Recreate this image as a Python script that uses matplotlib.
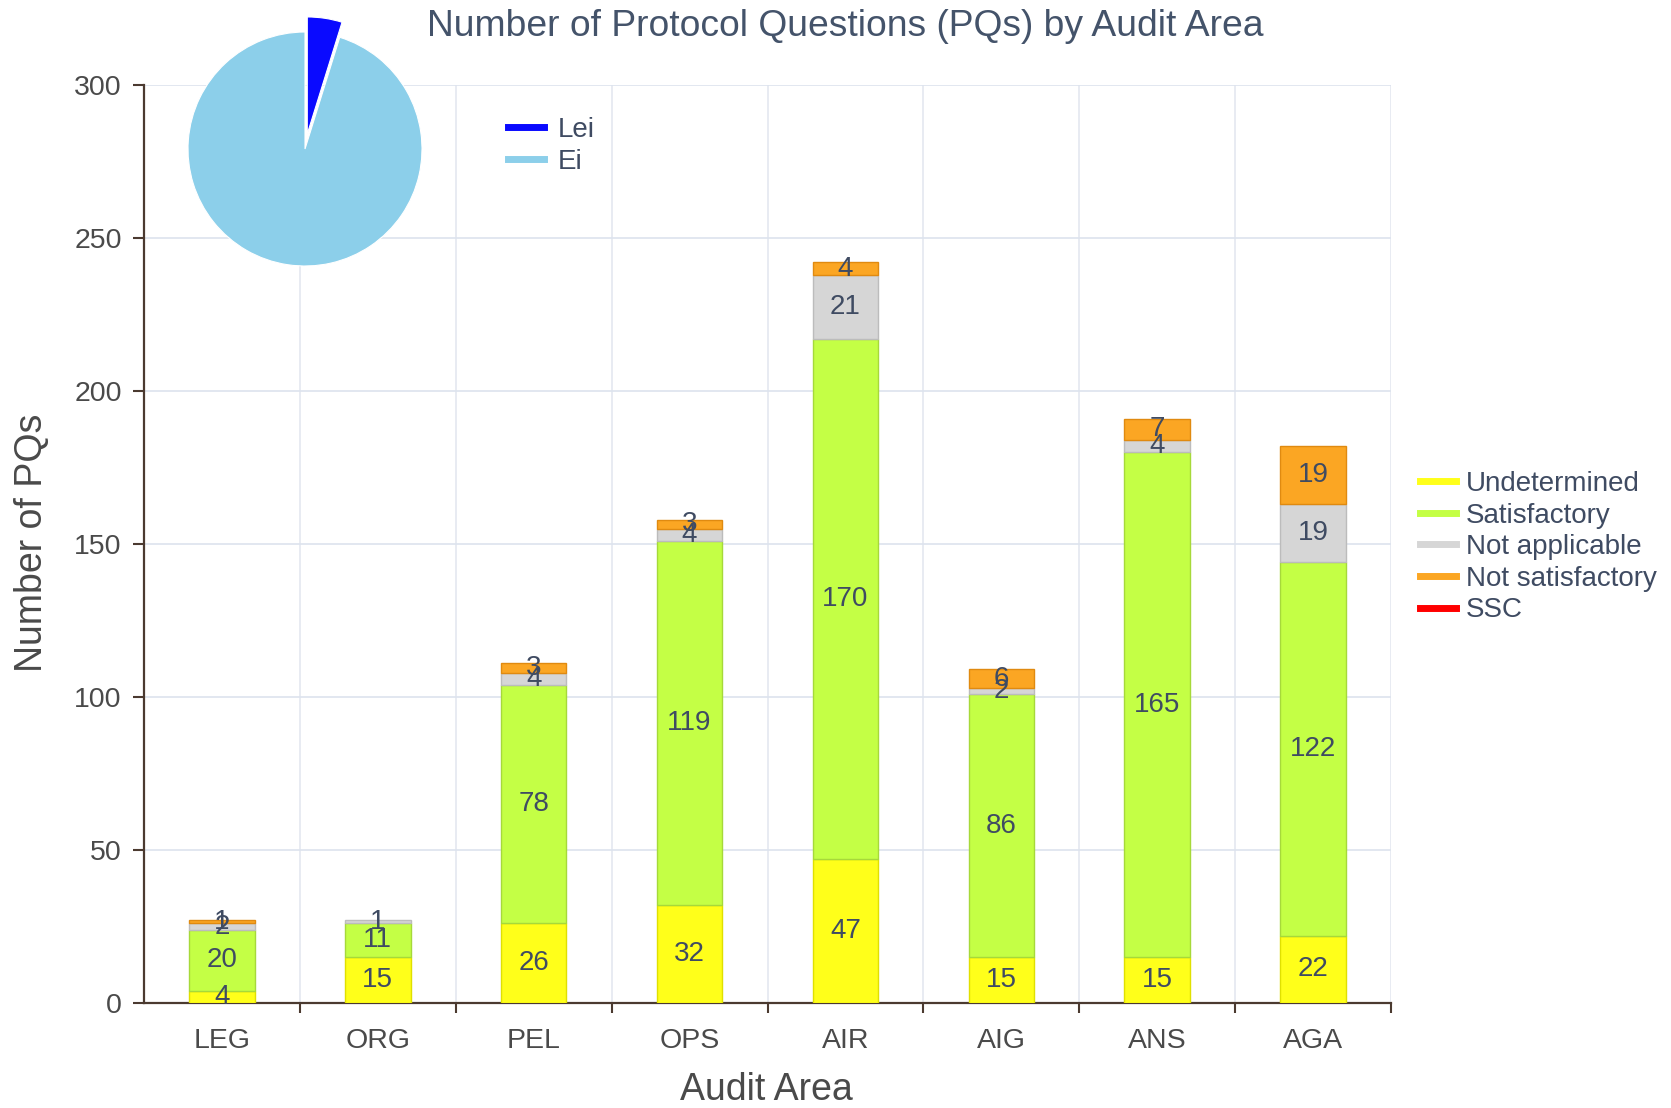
import matplotlib
matplotlib.use('Agg')
import matplotlib.pyplot as plt
import numpy as np
from matplotlib.lines import Line2D

plt.rcParams['font.family'] = ['Liberation Sans', 'DejaVu Sans']

areas = ['LEG', 'ORG', 'PEL', 'OPS', 'AIR', 'AIG', 'ANS', 'AGA']
undetermined = [4, 15, 26, 32, 47, 15, 15, 22]
satisfactory = [20, 11, 78, 119, 170, 86, 165, 122]
not_applicable = [2, 1, 4, 4, 21, 2, 4, 19]
not_satisfactory = [1, 0, 3, 3, 4, 6, 7, 19]
ssc = [0, 0, 0, 0, 0, 0, 0, 0]

series_names = ['Undetermined', 'Satisfactory', 'Not applicable',
                'Not satisfactory', 'SSC']
series_colors = ['#ffff1a', '#c4ff45', '#d6d6d6', '#fba623', '#ff0000']
edge_colors = ['#e0e000', '#a6d93a', '#bcbcbc', '#e08a10', '#cc0000']

pie_labels = ['Lei', 'Ei']
pie_values = [4.8, 95.2]
pie_colors = ['#0a0aff', '#8ccfea']

text_col = '#4a4a4a'
label_col = '#3f4b62'

fig = plt.figure(figsize=(16.71, 11.08), dpi=100)
ax = fig.add_axes([144 / 1671, 1 - 1003 / 1108, (1391 - 144) / 1671, (1003 - 85) / 1108])

x = np.arange(len(areas))
width = 0.42
bottom = np.zeros(len(areas))
all_series = [undetermined, satisfactory, not_applicable, not_satisfactory, ssc]
for vals, name, col, ec in zip(all_series, series_names, series_colors, edge_colors):
    vals = np.array(vals, dtype=float)
    lw = np.where(vals > 0, 1.0, 0.0)
    ax.bar(x, vals, width, bottom=bottom, color=col, edgecolor=ec,
           linewidth=lw, zorder=3)
    for xi, b, v in zip(x, bottom, vals):
        if v > 0:
            ax.text(xi, b + v / 2, f'{int(v)}', ha='center', va='center',
                    fontsize=20, color=label_col, zorder=4)
    bottom += vals

ax.set_xlim(-0.5, 7.5)
ax.set_ylim(0, 300)
ax.set_yticks(np.arange(0, 301, 50))
ax.set_xticks(x)
ax.set_xticklabels(areas)
ax.set_xticks(np.arange(0.5, 8, 1), minor=True)
ax.tick_params(axis='x', which='major', length=0, pad=18, labelsize=20.5,
               labelcolor=text_col)
ax.tick_params(axis='x', which='minor', length=7, width=1.5, color='#4b3a30')
ax.tick_params(axis='y', length=8, width=1.5, color='#4b3a30', pad=8,
               labelsize=20.5, labelcolor=text_col)
ax.grid(axis='y', color='#dde3ee', linewidth=1.2, zorder=0)
ax.grid(axis='x', which='minor', color='#e4e8f0', linewidth=1.2, zorder=0)
for s in ['top', 'right']:
    ax.spines[s].set_visible(False)
for s in ['left', 'bottom']:
    ax.spines[s].set_color('#4b3a30')
    ax.spines[s].set_linewidth(1.6)

fig.text(766 / 1671, 1 - 1090 / 1108, 'Audit Area', ha='center', va='center',
         fontsize=27, color=text_col)
fig.text(32 / 1671, 1 - 543 / 1108, 'Number of PQs', ha='center', va='center',
         rotation=90, fontsize=27, color=text_col)
fig.text(845 / 1671, 1 - 27 / 1108,
         'Number of Protocol Questions (PQs) by Audit Area',
         ha='center', va='center', fontsize=26.8, color='#44536a')

# series legend on the right
handles = [Line2D([0], [0], color=c, lw=5) for c in series_colors]
fig.legend(handles, series_names, loc='upper left',
           bbox_to_anchor=(1395 / 1671, 1 - 446 / 1108), frameon=False,
           fontsize=20, handlelength=1.3, handletextpad=0.35, labelspacing=0.2,
           labelcolor=label_col)

# pie inset
r = 117
box = 2.6 * r
pax = fig.add_axes([(305 - box / 2) / 1671, 1 - (149 + box / 2) / 1108,
                    box / 1671, box / 1108])
pax.pie(pie_values, colors=pie_colors, startangle=90, counterclock=False,
        explode=[0.13, 0], wedgeprops=dict(edgecolor='white', linewidth=0.8))
pax.set_xlim(-1.3, 1.3)
pax.set_ylim(-1.3, 1.3)
pax.set_aspect('equal')
pax.axis('off')

pie_handles = [Line2D([0], [0], color=c, lw=5) for c in pie_colors]
fig.legend(pie_handles, pie_labels, loc='upper left',
           bbox_to_anchor=(483 / 1671, 1 - 92 / 1108), frameon=False,
           fontsize=20, handlelength=1.3, handletextpad=0.5, labelspacing=0.2,
           labelcolor=label_col)

fig.savefig('out.png', dpi=100)
